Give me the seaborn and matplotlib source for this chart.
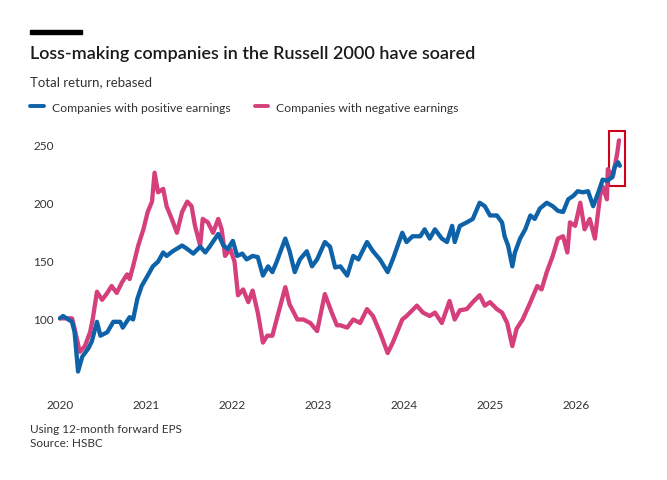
import pandas as pd
import numpy as np
import seaborn as sns
from matplotlib import pyplot as plt
from matplotlib.lines import Line2D
from matplotlib.patches import Rectangle

# values (decimal year, rebased total return)
pos_year = [2020.00, 2020.035, 2020.14, 2020.17, 2020.21, 2020.26, 2020.33, 2020.37, 2020.43, 2020.47,
            2020.55, 2020.62, 2020.70, 2020.73, 2020.81, 2020.85, 2020.90, 2020.95, 2021.02, 2021.08,
            2021.14, 2021.20, 2021.24, 2021.31, 2021.42, 2021.48, 2021.55, 2021.63, 2021.69, 2021.74,
            2021.84, 2021.90, 2021.95, 2022.01, 2022.06, 2022.12, 2022.17, 2022.24, 2022.30, 2022.36,
            2022.42, 2022.47, 2022.52, 2022.62, 2022.67, 2022.73, 2022.79, 2022.87, 2022.93, 2022.99,
            2023.08, 2023.14, 2023.20, 2023.26, 2023.34, 2023.41, 2023.47, 2023.57, 2023.64, 2023.72,
            2023.81, 2023.87, 2023.98, 2024.03, 2024.10, 2024.19, 2024.24, 2024.30, 2024.36, 2024.44,
            2024.50, 2024.56, 2024.59, 2024.65, 2024.73, 2024.80, 2024.88, 2024.94, 2025.00, 2025.08,
            2025.14, 2025.17, 2025.21, 2025.26, 2025.29, 2025.35, 2025.41, 2025.47, 2025.52, 2025.58,
            2025.66, 2025.73, 2025.79, 2025.85, 2025.91, 2025.97, 2026.02, 2026.08, 2026.14, 2026.20,
            2026.26, 2026.31, 2026.36, 2026.42, 2026.45, 2026.49, 2026.51]
pos_val = [100, 102, 97, 88, 54, 67, 74, 80, 97, 85,
           88, 97, 97, 92, 101, 99, 117, 128, 137, 145,
           149, 157, 154, 158, 163, 160, 156, 162, 157, 162,
           173, 163, 160, 167, 154, 156, 151, 154, 153, 137,
           145, 140, 149, 169, 158, 140, 151, 158, 145, 151,
           166, 162, 144, 145, 137, 154, 151, 166, 158, 151,
           140, 151, 174, 166, 171, 171, 177, 169, 177, 169,
           166, 180, 166, 180, 183, 186, 200, 197, 189, 189,
           183, 171, 163, 145, 157, 169, 177, 189, 186, 195,
           200, 197, 193, 192, 203, 206, 210, 209, 210, 197,
           209, 220, 219, 222, 231, 235, 232]

neg_year = [2020.00, 2020.14, 2020.17, 2020.23, 2020.29, 2020.35, 2020.38, 2020.43, 2020.49, 2020.55,
            2020.60, 2020.66, 2020.72, 2020.78, 2020.81, 2020.85, 2020.91, 2020.97, 2021.02, 2021.07,
            2021.10, 2021.14, 2021.20, 2021.24, 2021.30, 2021.36, 2021.42, 2021.48, 2021.53, 2021.57,
            2021.63, 2021.66, 2021.72, 2021.78, 2021.84, 2021.88, 2021.92, 2021.98, 2022.03, 2022.07,
            2022.13, 2022.19, 2022.24, 2022.30, 2022.36, 2022.41, 2022.47, 2022.53, 2022.62, 2022.67,
            2022.76, 2022.83, 2022.91, 2022.99, 2023.08, 2023.16, 2023.22, 2023.26, 2023.34, 2023.41,
            2023.49, 2023.57, 2023.64, 2023.72, 2023.81, 2023.87, 2023.98, 2024.03, 2024.15, 2024.22,
            2024.30, 2024.36, 2024.44, 2024.53, 2024.59, 2024.65, 2024.73, 2024.80, 2024.88, 2024.94,
            2025.00, 2025.08, 2025.14, 2025.20, 2025.26, 2025.31, 2025.38, 2025.47, 2025.55, 2025.60,
            2025.66, 2025.73, 2025.79, 2025.85, 2025.90, 2025.93, 2025.99, 2026.05, 2026.10, 2026.16,
            2026.22, 2026.28, 2026.31, 2026.36, 2026.37, 2026.43, 2026.48, 2026.50]
neg_val = [100, 100, 91, 71, 76, 88, 99, 123, 116, 122,
           128, 122, 131, 138, 134, 145, 163, 177, 192, 201,
           226, 209, 212, 197, 186, 174, 192, 201, 197, 180,
           163, 186, 183, 174, 186, 177, 154, 160, 149, 120,
           125, 114, 124, 105, 79, 85, 85, 102, 127, 112,
           99, 99, 96, 89, 121, 105, 94, 94, 92, 99,
           96, 108, 102, 88, 70, 79, 99, 102, 111, 105,
           102, 105, 96, 115, 99, 107, 108, 114, 120, 111,
           114, 108, 105, 96, 76, 91, 99, 114, 128, 125,
           140, 154, 169, 171, 157, 183, 180, 200, 177, 186,
           169, 206, 214, 203, 229, 223, 243, 254]

series_names = ["Companies with positive earnings", "Companies with negative earnings"]
colors = ["#0e62a7", "#d5407c"]
year_ticks = [2020, 2021, 2022, 2023, 2024, 2025, 2026]
value_ticks = [100, 150, 200, 250]

df = pd.concat([
    pd.DataFrame({"year": pos_year, "value": pos_val, "series": series_names[0]}),
    pd.DataFrame({"year": neg_year, "value": neg_val, "series": series_names[1]}),
])

sns.set_theme(style="white")
plt.rcParams["font.family"] = ["Lato", "DejaVu Sans"]

fig = plt.figure(figsize=(6.67, 4.81), dpi=100)
ax = fig.add_axes([58 / 667, 1 - 385 / 481, (625 - 58) / 667, 255 / 481])

# pink first so blue sits on top where they overlap
for name, col in zip(series_names[::-1], colors[::-1]):
    sns.lineplot(data=df[df["series"] == name], x="year", y="value", color=col,
                 linewidth=3.1, estimator=None, sort=False, ax=ax, legend=False)

ax.set_xlim(2019.977, 2026.57)
ax.set_ylim(43.2, 263.8)
ax.set_xticks(year_ticks)
ax.set_xticklabels([str(y) for y in year_ticks])
ax.set_yticks(value_ticks)
ax.set_xlabel("")
ax.set_ylabel("")
for s in ax.spines.values():
    s.set_visible(False)
ax.tick_params(axis="x", length=0, pad=11, labelsize=8.5, colors="#333333")
ax.tick_params(axis="y", length=0, pad=3, labelsize=8.5, colors="#333333")

# red highlight box around the latest readings
ax.add_patch(Rectangle((2026.38, 214.4), 0.19, 47.6, fill=False, edgecolor="#d0021b",
                       linewidth=1.5, clip_on=False))

# header
fig.add_artist(Rectangle((30 / 667, 1 - 35 / 481), 52 / 667, 4 / 481,
                         transform=fig.transFigure, color="black"))
fig.text(30 / 667, 1 - 59 / 481, "Loss-making companies in the Russell 2000 have soared",
         fontsize=13, fontweight="semibold", color="#1a1a1a", va="baseline")
fig.text(30 / 667, 1 - 86 / 481, "Total return, rebased", fontsize=9.5, color="#333333",
         va="baseline")

handles = [Line2D([], [], color=c, linewidth=2.8) for c in colors]
fig.legend(handles, series_names, loc="center left", bbox_to_anchor=(30 / 667, 1 - 108 / 481),
           ncol=2, frameon=False, fontsize=8.7, handlelength=1.15, handletextpad=0.65,
           columnspacing=2.0, borderpad=0, borderaxespad=0, labelcolor="#333333")

# footer
fig.text(30 / 667, 1 - 433 / 481, "Using 12-month forward EPS", fontsize=8.5, color="#333333",
         va="baseline")
fig.text(30 / 667, 1 - 447 / 481, "Source: HSBC", fontsize=8.5, color="#333333", va="baseline")

fig.savefig("out.png", dpi=100)
